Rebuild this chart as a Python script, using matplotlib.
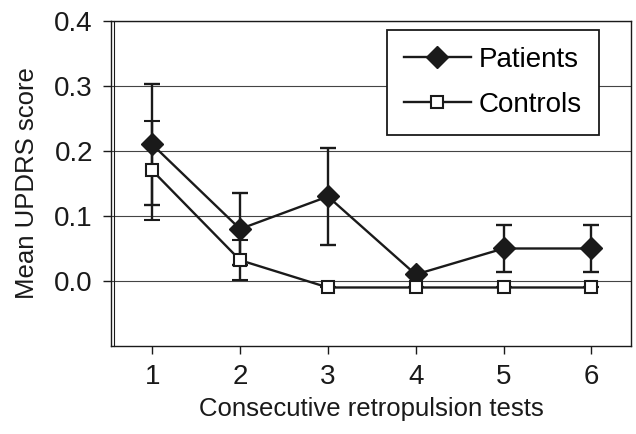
import matplotlib.pyplot as plt

# values
tests = [1, 2, 3, 4, 5, 6]
patients = [0.21, 0.08, 0.13, 0.01, 0.05, 0.05]
patients_err = [0.093, 0.055, 0.075, 0.0, 0.036, 0.036]
controls = [0.17, 0.032, -0.01, -0.01, -0.01, -0.01]
controls_err = [0.076, 0.031, 0.0, 0.0, 0.0, 0.0]
y_ticks = [0.0, 0.1, 0.2, 0.3, 0.4]

plt.rcParams['font.family'] = ['Liberation Sans', 'DejaVu Sans']

fig = plt.figure(figsize=(6.36, 4.34), dpi=100)
ax = fig.add_axes([0.1745, 0.2028, 0.8175, 0.7488])

for y in y_ticks:
    ax.axhline(y, color='#444444', linewidth=0.8, zorder=0)

pat = ax.errorbar(tests, patients, yerr=patients_err, color='#1a1a1a', linewidth=1.7,
                  marker='D', markersize=11, markerfacecolor='#1a1a1a',
                  markeredgecolor='#1a1a1a', capsize=6, capthick=1.7,
                  elinewidth=1.7, zorder=3)
con = ax.errorbar(tests, controls, yerr=controls_err, color='#1a1a1a', linewidth=1.7,
                  marker='s', markersize=9, markerfacecolor='white',
                  markeredgecolor='#1a1a1a', markeredgewidth=1.5, capsize=6,
                  capthick=1.7, elinewidth=1.7, zorder=4)

ax.set_xlim(0.53, 6.45)
ax.set_ylim(-0.1, 0.4)
ax.set_xticks(tests)
ax.set_yticks(y_ticks)
ax.set_yticklabels([f'{v:.1f}' for v in y_ticks])
ax.tick_params(direction='out', length=6, width=1, labelsize=20, colors='#1a1a1a', pad=7)

for s in ax.spines.values():
    s.set_color('#1a1a1a')
    s.set_linewidth(1.0)
ax.plot([0.006, 0.006], [0, 1], transform=ax.transAxes, color='#1a1a1a',
        linewidth=0.8, clip_on=False)

ax.set_ylabel('Mean UPDRS score', fontsize=18.5, color='#1a1a1a', labelpad=11)
ax.set_xlabel('Consecutive retropulsion tests', fontsize=18.5, color='#1a1a1a', labelpad=5)

leg = ax.legend([pat[0], con[0]], ['Patients', 'Controls'], loc='upper right',
                bbox_to_anchor=(0.938, 0.972), fontsize=20,
                frameon=True, fancybox=False, handlelength=2.4,
                borderpad=0.6, labelspacing=0.7, handletextpad=0.3,
                borderaxespad=0)
leg.get_frame().set_edgecolor('#1a1a1a')
leg.get_frame().set_linewidth(1.3)
leg.get_frame().set_alpha(1)
leg.set_zorder(5)

fig.savefig('out.png', dpi=100)
